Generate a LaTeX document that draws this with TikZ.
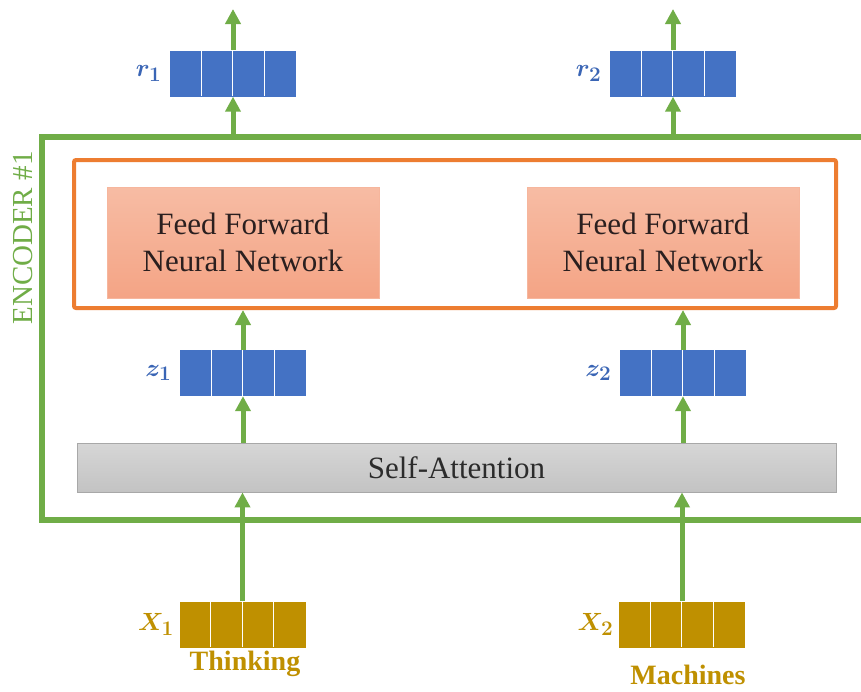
\documentclass[tikz,border=0pt]{standalone}
\usepackage{fontspec}
\setmainfont{Liberation Serif}
\usetikzlibrary{arrows.meta}
\definecolor{encgreen}{HTML}{70AD47}
\definecolor{vecblue}{HTML}{4472C4}
\definecolor{labblue}{HTML}{3A65B5}
\definecolor{wordgold}{HTML}{BF9000}
\definecolor{ffnorange}{HTML}{ED7D31}
\definecolor{ffntop}{HTML}{F7BCA4}
\definecolor{ffnbot}{HTML}{F4A485}
\definecolor{satop}{HTML}{D6D6D6}
\definecolor{sabot}{HTML}{C3C3C3}
\definecolor{saedge}{HTML}{A8A8A8}
\definecolor{ffntext}{HTML}{2A1F1F}
\definecolor{satext}{HTML}{2B2B2B}

% one embedding vector: four cells separated by white rules
\newcommand\wordvec[4]{%
  \node[vecnode, fill=#4] (#1) at (#2,#3) {};
  \foreach \k in {1,2,3}
    \draw[white, line width=1.3pt] (#1.north west) ++(\k*31.5,0) -- ++(0,46);
}

\begin{document}
\begin{tikzpicture}[x=1pt, y=-1pt,
  vecnode/.style={rectangle, minimum width=126pt, minimum height=46pt, inner sep=0pt, draw=none},
  arr/.style={draw=encgreen, line width=5pt, -{Triangle[width=15pt,length=15pt]}},
  ffn/.style={rectangle, draw=ffnbot!80!white, line width=0.6pt, top color=ffntop, bottom color=ffnbot,
    minimum width=272pt, minimum height=111pt, inner sep=0pt, align=center, text=ffntext,
    font=\fontsize{31}{37}\selectfont},
  veclab/.style={anchor=east, font=\fontsize{30}{32}\selectfont\boldmath},
  word/.style={text=wordgold, inner sep=1pt, font=\fontsize{28}{32}\selectfont\bfseries}
]
\useasboundingbox (0,0) rectangle (861,691);
\clip (0,0) rectangle (861,691);
\fill[white] (0,0) rectangle (861,691);

% encoder frame (open past the right edge)
\node[draw=encgreen, line width=6pt, minimum width=858pt, minimum height=383pt, inner sep=0pt]
  (enc) at (471,328.5) {};
\node[rotate=90, text=encgreen, font=\fontsize{29}{32}\selectfont] (enclab) at (23,238) {ENCODER \#1};

% feed-forward layer
\node[draw=ffnorange, line width=4pt, rounded corners=2pt, minimum width=762pt, minimum height=148pt, inner sep=0pt]
  (ffnbox) at (455,234) {};
\node[ffn] (ffn1) at (243,242.5) {Feed Forward\\Neural Network};
\node[ffn] (ffn2) at (663,242.5) {Feed Forward\\Neural Network};

% self-attention layer
\node[rectangle, draw=saedge, line width=0.8pt, top color=satop, bottom color=sabot,
  minimum width=759pt, minimum height=49pt, inner sep=0pt, text=satext,
  font=\fontsize{31}{34}\selectfont] (sa) at (456.5,467.5) {Self-Attention};

% vectors
\wordvec{r1}{233}{73.5}{vecblue}
\wordvec{r2}{673}{73.5}{vecblue}
\wordvec{z1}{243}{373}{vecblue}
\wordvec{z2}{683}{373}{vecblue}
\wordvec{x1}{242.5}{624.5}{wordgold}
\wordvec{x2}{682}{624.5}{wordgold}

\node[veclab, text=labblue] (r1lab) at ([xshift=-5pt]r1.west) {$r_1$};
\node[veclab, text=labblue] (r2lab) at ([xshift=-5pt]r2.west) {$r_2$};
\node[veclab, text=labblue] (z1lab) at ([xshift=-5pt]z1.west) {$z_1$};
\node[veclab, text=labblue] (z2lab) at ([xshift=-5pt]z2.west) {$z_2$};
\node[veclab, text=wordgold] (x1lab) at ([xshift=-2pt]x1.west) {$X_1$};
\node[veclab, text=wordgold] (x2lab) at ([xshift=-2pt]x2.west) {$X_2$};

\node[word] (w1) at (245,664) {Thinking};
\node[word] (w2) at (688,675) {Machines};

% outputs above the encoder
\coordinate (r1out) at (233,9);
\coordinate (r2out) at (673,9);

% data flow
\draw[arr] (x1.north) -- (x1 |- sa.south);
\draw[arr] (x2.north) -- (x2 |- sa.south);
\draw[arr] (z1 |- sa.north) -- (z1.south);
\draw[arr] (z2 |- sa.north) -- (z2.south);
\draw[arr] (z1.north) -- (z1 |- ffnbox.south);
\draw[arr] (z2.north) -- (z2 |- ffnbox.south);
\draw[arr] (r1 |- enc.north) -- (r1.south);
\draw[arr] (r2 |- enc.north) -- (r2.south);
\draw[arr] (r1.north) -- (r1out);
\draw[arr] (r2.north) -- (r2out);
\end{tikzpicture}
\end{document}
